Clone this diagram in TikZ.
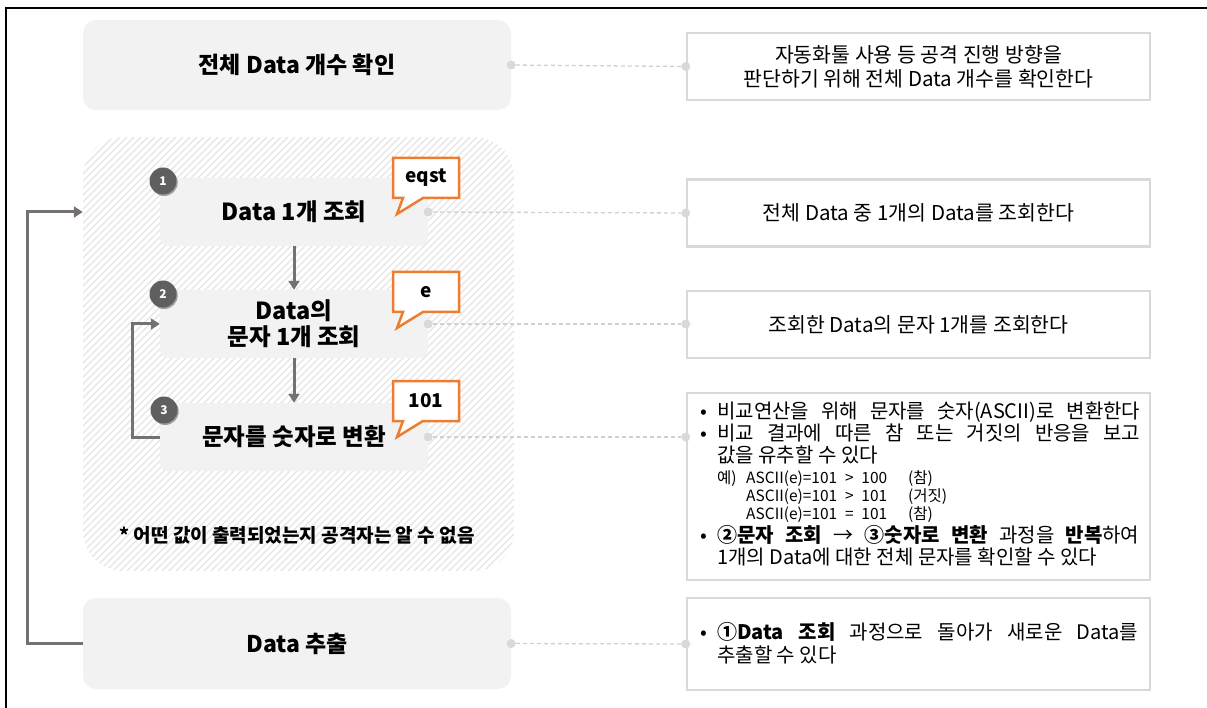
\documentclass[tikz,border=0pt]{standalone}
\usepackage{fontspec}
\setmainfont{Noto Sans CJK KR}
\usetikzlibrary{arrows.meta,shapes.callouts,shadows,calc}
\definecolor{boxgray}{HTML}{F2F2F2}
\definecolor{linegray}{HTML}{D9D9D9}
\definecolor{dashgray}{HTML}{D0D0D0}
\definecolor{arrowgray}{HTML}{767171}
\definecolor{badgegray}{HTML}{5F5F5F}
\definecolor{calloutorange}{HTML}{ED7D31}
\definecolor{hatchgray}{HTML}{E4E4E4}
\tikzset{
  mainbox/.style={fill=boxgray, rounded corners=13pt, minimum width=428pt, inner sep=0pt, align=center, font=\fontsize{23}{27}\selectfont\bfseries},
  stepbox/.style={fill=boxgray, rounded corners=8pt, minimum width=268pt, minimum height=68pt, inner sep=0pt, align=center, font=\fontsize{23.5}{26}\selectfont\bfseries},
  rbox/.style={draw=linegray, line width=2.5pt, fill=white, minimum width=463pt, inner sep=0pt, align=center, font=\fontsize{20.5}{24}\selectfont},
  dot/.style={circle, fill=linegray, minimum size=9pt, inner sep=0pt},
  dashline/.style={draw=dashgray, line width=1.3pt, dash pattern=on 4pt off 3pt},
  flow/.style={draw=arrowgray, line width=3pt, -{Triangle[length=9pt,width=11pt]}},
  badge/.style={circle, fill=badgegray, text=white, minimum size=27pt, inner sep=0pt, font=\fontsize{12}{14}\selectfont\bfseries, drop shadow={shadow xshift=1.2pt, shadow yshift=-1.5pt, fill=black, opacity=0.35}},
  callout/.style={rectangle callout, draw=calloutorange, fill=white, line width=2.5pt, minimum width=66pt, minimum height=40pt, inner sep=0pt, font=\fontsize{19}{22}\selectfont\bfseries, callout pointer width=20pt},
  txt/.style={anchor=base west, inner sep=0pt, font=\fontsize{20}{22}\selectfont},
  smalltxt/.style={anchor=base west, inner sep=0pt, font=\fontsize{15.5}{18}\selectfont},
}
\begin{document}
\begin{tikzpicture}[x=1pt,y=-1pt]
\useasboundingbox (0,0) rectangle (1207,708);
% outer frame
\draw[line width=2pt] (6,708) -- (6,8) -- (1207,8);

% hatched group
\begin{scope}
\clip[rounded corners=40pt] (83,137) rectangle (514,571);
\foreach \i in {-440,-433,...,520} \draw[hatchgray, line width=1.1pt] (\i,571) -- ++(434,-434);
\end{scope}
\node[inner sep=0pt, minimum width=431pt, minimum height=434pt] (grp) at (298.5,354) {};

% main boxes
\node[mainbox, minimum height=90pt] (m1) at (297,65) {전체 Data 개수 확인};
\node[mainbox, minimum height=91pt] (m5) at (297,643.5) {Data 추출};

% step boxes
\node[stepbox] (s1) at (294,212) {Data 1개 조회};
\node[stepbox] (s2) at (294,324) {Data의\\문자 1개 조회};
\node[stepbox] (s3) at (294,437) {문자를 숫자로 변환};

% badges
\node[badge] (b1) at (163,181) {1};
\node[badge] (b2) at (163,294) {2};
\node[badge] (b3) at (164,410) {3};

% callouts
\node[callout, callout absolute pointer={(397,214)}] (c1) at (426,178) {eqst};
\node[callout, callout absolute pointer={(397,328)}] (c2) at (426,292) {e};
\node[callout, callout absolute pointer={(397,437)}] (c3) at (426,401) {101};

% note
\node[inner sep=0pt, font=\fontsize{19}{20}\selectfont\bfseries] (note) at (297,535) {* 어떤 값이 출력되었는지 공격자는 알 수 없음};

% flow arrows
\draw[flow] (s1.south) -- (s2.north);
\draw[flow] (s2.south) -- (s3.north);
\draw[flow] (s3.west) -- ++(-27,0) |- (s2.west);
\coordinate (gin) at (grp.west |- s1.west);
\draw[flow] (m5.west) -- ++(-55,0) |- (gin);

% right boxes
\node[rbox, minimum height=67pt] (r1) at (918.5,66.5) {자동화툴 사용 등 공격 진행 방향을\\판단하기 위해 전체 Data 개수를 확인한다};
\node[rbox, minimum height=67pt] (r2) at (918.5,213) {전체 Data 중 1개의 Data를 조회한다};
\node[rbox, minimum height=67pt] (r3) at (918.5,324.5) {조회한 Data의 문자 1개를 조회한다};
\node[rbox, minimum height=187pt] (r4) at (918.5,486.5) {};
\node[rbox, minimum height=92pt] (r5) at (918.5,644) {};

% r4 text
\node[txt] (l1) at (700,418) {\makebox[17pt][l]{•}\makebox[423pt][s]{비교연산을 위해 문자를 숫자(ASCII)로 변환한다}};
\node[txt] (l2) at (700,440) {\makebox[17pt][l]{•}\makebox[423pt][s]{비교 결과에 따른 참 또는 거짓의 반응을 보고}};
\node[txt] (l3) at (717,462) {값을 유추할 수 있다};
\node[smalltxt] (l4) at (717,483) {\makebox[29pt][l]{예)}\makebox[162pt][l]{ASCII(e)=101 \;>\; 100}(참)};
\node[smalltxt] (l5) at (746,501) {\makebox[162pt][l]{ASCII(e)=101 \;>\; 101}(거짓)};
\node[smalltxt] (l6) at (746,519) {\makebox[162pt][l]{ASCII(e)=101 \;=\; 101}(참)};
\node[txt] (l7) at (700,542) {\makebox[17pt][l]{•}\makebox[422pt][s]{\textbf{②문자 조회} → \textbf{③숫자로 변환} 과정을 \textbf{반복}하여}};
\node[txt] (l8) at (717,564) {1개의 Data에 대한 전체 문자를 확인할 수 있다};

% r5 text
\node[txt] (k1) at (700,639) {\makebox[17pt][l]{•}\makebox[421pt][s]{\textbf{①Data 조회} 과정으로 돌아가 새로운 Data를}};
\node[txt] (k2) at (717,662) {추출할 수 있다};

% connectors
\node[dot] (d1) at (m1.east) {};
\node[dot] (e1) at (r1.west) {};
\draw[dashline] (d1) -- (e1);
\node[dot] (d2) at (s1.east) {};
\node[dot] (e2) at (r2.west) {};
\draw[dashline] (d2) -- (e2);
\node[dot] (d3) at (s2.east) {};
\node[dot] (e3) at (r3.west |- s2.east) {};
\draw[dashline] (d3) -- (e3);
\node[dot] (d4) at (s3.east) {};
\node[dot] (e4) at (r4.west |- s3.east) {};
\draw[dashline] (d4) -- (e4);
\node[dot] (d5) at (m5.east) {};
\node[dot] (e5) at (r5.west) {};
\draw[dashline] (d5) -- (e5);
\end{tikzpicture}
\end{document}
